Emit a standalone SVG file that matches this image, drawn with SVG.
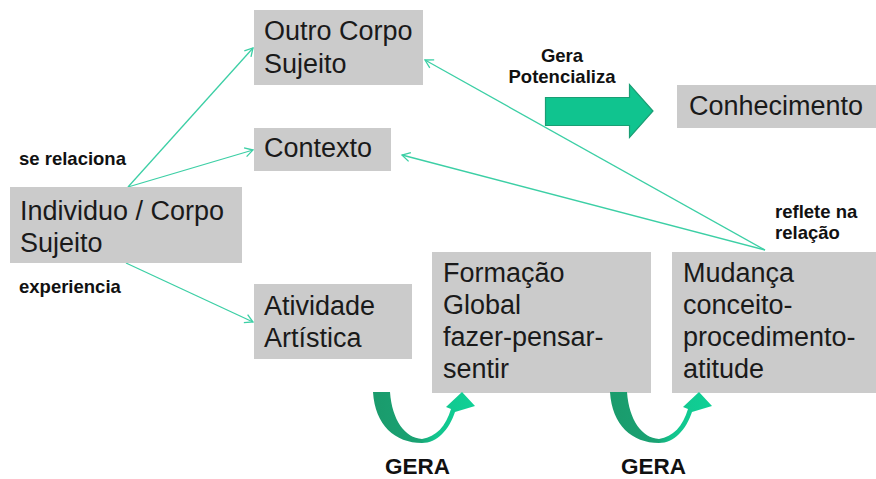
<svg xmlns="http://www.w3.org/2000/svg" width="876" height="479" viewBox="0 0 876 479">
<style>
.box{fill:#cbcbcb}
.t{font-family:"Liberation Sans",Arial,sans-serif;font-size:27px;fill:#1a1a1a}
.lb{font-family:"Liberation Sans",Arial,sans-serif;font-size:18.5px;font-weight:bold;fill:#111}
.g{font-family:"Liberation Sans",Arial,sans-serif;font-size:22.5px;font-weight:bold;fill:#111}
.c{stroke:#3ccfa5;stroke-width:1.3;fill:none;marker-end:url(#ah)}
</style>
<defs>
<marker id="ah" markerUnits="userSpaceOnUse" markerWidth="12" markerHeight="12" viewBox="0 0 12 12" refX="10" refY="6" orient="auto">
<path d="M2,1.5 L10,6 L2,10.5" fill="none" stroke="#3ccfa5" stroke-width="1.3"/>
</marker>
<linearGradient id="ug" x1="373" y1="0" x2="476" y2="0" gradientUnits="userSpaceOnUse">
<stop offset="0" stop-color="#1a9b6c"/>
<stop offset="0.45" stop-color="#1aa273"/>
<stop offset="0.6" stop-color="#12c58e"/>
<stop offset="1" stop-color="#0fd196"/>
</linearGradient>
<path id="uarrow" d="M373,392 C375,425 395,443 422,443 C437,443 449,430 455,412 L475,406 L462,392 L446,407 L451,409 C446,426 436,437 422,439 C405,438 392,420 390,392 Z" fill="url(#ug)"/>
</defs>

<g id="connectors">
<line class="c" x1="128" y1="187" x2="253" y2="48"/>
<line class="c" x1="128" y1="187" x2="253" y2="150"/>
<line class="c" x1="126" y1="263" x2="253" y2="322"/>
<line class="c" x1="765" y1="250" x2="425" y2="60"/>
<line class="c" x1="765" y1="250" x2="402" y2="155"/>
</g>

<g id="outro">
<rect class="box" x="254" y="10" width="169" height="75"/>
<text class="t" x="264" y="40">Outro Corpo</text>
<text class="t" x="264" y="73">Sujeito</text>
</g>
<g id="contexto">
<rect class="box" x="254" y="128" width="137" height="43"/>
<text class="t" x="264" y="157">Contexto</text>
</g>
<g id="individuo">
<rect class="box" x="10" y="187" width="232" height="76"/>
<text class="t" x="20" y="220">Individuo / Corpo</text>
<text class="t" x="20" y="252">Sujeito</text>
</g>
<g id="atividade">
<rect class="box" x="254" y="284" width="158" height="75"/>
<text class="t" x="264" y="315">Atividade</text>
<text class="t" x="264" y="347">Artística</text>
</g>
<g id="formacao">
<rect class="box" x="432" y="252" width="219" height="141"/>
<text class="t" x="443" y="282">Formação</text>
<text class="t" x="443" y="314">Global</text>
<text class="t" x="443" y="346">fazer-pensar-</text>
<text class="t" x="443" y="378">sentir</text>
</g>
<g id="mudanca">
<rect class="box" x="672" y="252" width="204" height="141"/>
<text class="t" x="683" y="282">Mudança</text>
<text class="t" x="683" y="314">conceito-</text>
<text class="t" x="683" y="346">procedimento-</text>
<text class="t" x="683" y="378">atitude</text>
</g>
<g id="conhecimento">
<rect class="box" x="677" y="85" width="199" height="43"/>
<text class="t" x="689" y="115">Conhecimento</text>
</g>

<g id="gera-arrow">
<path d="M545.5,97.5 L629.5,97.5 L629.5,84.5 L653,111 L629.5,137.5 L629.5,125.5 L545.5,125.5 Z" fill="#10c48f" stroke="#1a9e74" stroke-width="1.2"/>
<text class="lb" x="562" y="62" text-anchor="middle">Gera</text>
<text class="lb" x="562" y="83" text-anchor="middle">Potencializa</text>
</g>

<g id="labels">
<text class="lb" x="19" y="165">se relaciona</text>
<text class="lb" x="19" y="293">experiencia</text>
<text class="lb" x="775" y="218">reflete na</text>
<text class="lb" x="775" y="239">relação</text>
</g>

<g id="gera1">
<use href="#uarrow"/>
<text class="g" x="385" y="474">GERA</text>
</g>
<g id="gera2">
<use href="#uarrow" transform="translate(237,0)"/>
<text class="g" x="621" y="474">GERA</text>
</g>
</svg>
